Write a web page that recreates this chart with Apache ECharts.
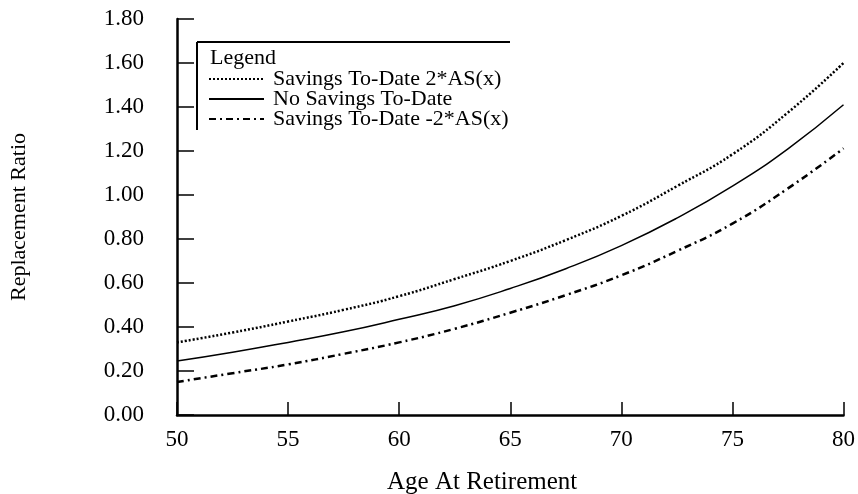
<!DOCTYPE html>
<html>
<head>
<meta charset="utf-8">
<script src="https://cdn.jsdelivr.net/npm/echarts@6/dist/echarts.min.js"></script>
<style>html,body{margin:0;padding:0;background:#fff;}#c{width:858px;height:494px;}</style>
</head>
<body>
<div id="c"></div>
<script>
var ages = [50, 52.5, 55, 57.5, 60, 62.5, 65, 67.5, 70, 72.5, 75, 77.5, 80];
var savingsPlus = [0.330, 0.375, 0.425, 0.478, 0.540, 0.618, 0.700, 0.795, 0.905, 1.040, 1.185, 1.375, 1.600];
var noSavings = [0.245, 0.285, 0.330, 0.378, 0.435, 0.497, 0.575, 0.665, 0.770, 0.895, 1.040, 1.210, 1.410];
var savingsMinus = [0.150, 0.190, 0.230, 0.278, 0.330, 0.392, 0.465, 0.545, 0.635, 0.745, 0.870, 1.030, 1.212];
var seriesNames = ['Savings To-Date 2*AS(x)', 'No Savings To-Date', 'Savings To-Date -2*AS(x)'];
var xTicks = [50, 55, 60, 65, 70, 75, 80];
var yTicks = [0, 0.2, 0.4, 0.6, 0.8, 1.0, 1.2, 1.4, 1.6, 1.8];

function pairs(xs, ys) { return xs.map(function (x, i) { return [x, ys[i]]; }); }
var font = 'Liberation Serif';
var chart = echarts.init(document.getElementById('c'));
chart.setOption({
  animation: false,
  backgroundColor: '#fff',
  color: ['#000', '#000', '#000'],
  grid: { left: 172, right: 10, top: 19, bottom: 79 },
  xAxis: {
    type: 'value', min: xTicks[0], max: xTicks[xTicks.length - 1], interval: 5,
    axisLine: { lineStyle: { color: '#000', width: 2.5 } },
    axisTick: { inside: true, length: 13, lineStyle: { color: '#000', width: 1.5 } },
    axisLabel: { fontFamily: font, fontSize: 23, color: '#000', margin: 13 },
    splitLine: { show: false }
  },
  yAxis: {
    type: 'value', min: yTicks[0], max: yTicks[yTicks.length - 1], interval: 0.2,
    name: 'Replacement Ratio', nameLocation: 'middle', nameGap: 147,
    nameTextStyle: { fontFamily: font, fontSize: 22, color: '#000' },
    axisLine: { lineStyle: { color: '#000', width: 2.5 } },
    axisTick: { inside: true, length: 17, lineStyle: { color: '#000', width: 1.5 } },
    axisLabel: { fontFamily: font, fontSize: 23, color: '#000', margin: 33,
      formatter: function (v) { return v.toFixed(2); } },
    splitLine: { show: false }
  },
  legend: {
    orient: 'vertical', left: 208, top: 68, padding: 0,
    itemWidth: 55, itemHeight: 14, itemGap: -2,
    itemStyle: { color: 'rgba(0,0,0,0)', borderWidth: 0, opacity: 0 },
    textStyle: { fontFamily: font, fontSize: 22, color: '#000', padding: [0, 0, 0, 4] },
    data: seriesNames
  },
  graphic: [
    { type: 'line', shape: { x1: 197, y1: 42, x2: 510, y2: 42 }, style: { stroke: '#000', lineWidth: 2 } },
    { type: 'line', shape: { x1: 197, y1: 42, x2: 197, y2: 130 }, style: { stroke: '#000', lineWidth: 2 } },
    { type: 'text', left: 210, top: 47, style: { text: 'Legend', font: '22px "Liberation Serif"', fill: '#000' } },
    { type: 'text', left: 387, top: 470, style: { text: 'Age At Retirement', font: '25px "Liberation Serif"', fill: '#000' } }
  ],
  series: [
    { name: seriesNames[0], type: 'line', smooth: true, symbol: 'none', data: pairs(ages, savingsPlus),
      lineStyle: { color: '#000', width: 2.5, type: [2, 2] } },
    { name: seriesNames[1], type: 'line', smooth: true, symbol: 'none', data: pairs(ages, noSavings),
      lineStyle: { color: '#000', width: 1.5, type: 'solid' } },
    { name: seriesNames[2], type: 'line', smooth: true, symbol: 'none', data: pairs(ages, savingsMinus),
      lineStyle: { color: '#000', width: 2.5, type: [7, 4, 2, 4] } }
  ]
});
</script>
</body>
</html>
